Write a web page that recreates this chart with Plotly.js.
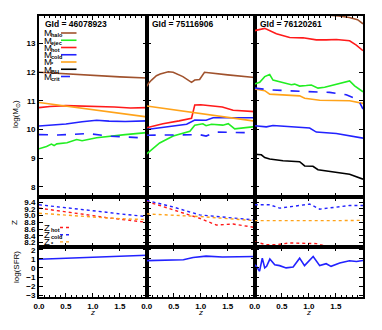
<!DOCTYPE html>
<html><head><meta charset="utf-8">
<script src="https://cdn.plot.ly/plotly-3.0.1.min.js"></script>
<style>html,body{margin:0;padding:0;background:#fff}#chart{width:382px;height:330px}</style>
</head><body><div id="chart"></div>
<script>
// ---------- data ----------
const galaxyIds = ['46078923', '75116906', '76120261'];
const xTickVals = [0, 0.5, 1.0, 1.5];
const xTickText = ['0.0', '0.5', '1.0', '1.5'];
const massTicks = [8, 9, 10, 11, 12, 13];
const metalTicks = [8.2, 8.4, 8.6, 8.8, 9.0, 9.2, 9.4];
const metalTickText = ['8.2', '8.4', '8.6', '8.8', '9.0', '9.2', '9.4'];
const sfrTicks = [-3, -2, -1, 0, 1, 2];

// Galaxy A (46078923)
const zHaloA = [0, 0.5, 1.0, 1.5, 2.0];
const haloA = [11.99, 11.93, 11.88, 11.83, 11.79];
const zHotA = [0, 0.2, 0.5, 0.8, 1.1, 1.4, 1.7, 1.9, 2.0];
const hotA = [10.76, 10.8, 10.83, 10.82, 10.8, 10.78, 10.75, 10.74, 10.76];
const zStarA = [0, 0.5, 1.0, 1.5, 2.0];
const starA = [10.94, 10.82, 10.69, 10.56, 10.44];
const zColdA = [0, 0.5, 0.8, 1.07, 1.3, 1.6, 2.0];
const coldA = [10.12, 10.19, 10.27, 10.32, 10.29, 10.28, 10.3];
const zCritA = [0, 0.35, 0.6, 0.9, 1.3, 1.6, 2.0];
const critA = [9.82, 9.81, 9.83, 9.86, 9.77, 9.73, 9.7];
const zEjecA = [0, 0.14, 0.23, 0.28, 0.33, 0.52, 0.7, 0.8, 1.07, 1.32, 1.6, 2.0];
const ejecA = [9.33, 9.41, 9.49, 9.44, 9.5, 9.54, 9.65, 9.61, 9.71, 9.77, 9.82, 9.89];
const zMetA = [0, 0.25, 0.5, 0.75, 1.0, 1.25, 1.5, 1.75, 2.0];
const zHotMetA = [9.22, 9.17, 9.12, 9.06, 9.0, 8.94, 8.89, 8.84, 8.8];
const zColdMetA = [9.32, 9.28, 9.24, 9.2, 9.15, 9.1, 9.05, 9.0, 8.97];
const zStarMetA = [9.07, 9.04, 9.0, 8.97, 8.95, 8.93, 8.91, 8.9, 8.88];
const zSfrA = [0, 0.5, 1.0, 1.5, 2.0];
const sfrA = [0.95, 1.07, 1.2, 1.3, 1.4];

// Galaxy B (75116906)
const zHaloB = [0, 0.04, 0.09, 0.18, 0.25, 0.4, 0.49, 0.67, 0.83, 0.89, 0.98, 1.07, 1.5, 2.0];
const haloB = [11.5, 11.62, 11.72, 11.87, 11.93, 12.01, 11.99, 11.84, 11.64, 11.72, 11.74, 11.99, 11.9, 11.81];
const zHotB = [0, 0.3, 0.6, 0.83, 0.89, 1.0, 1.4, 1.6, 2.0];
const hotB = [10.06, 10.2, 10.3, 10.39, 10.85, 10.86, 10.78, 10.67, 10.62];
const zStarB = [0, 0.5, 1.0, 1.5, 2.0];
const starB = [10.82, 10.69, 10.56, 10.42, 10.29];
const zColdB = [0, 0.4, 0.74, 0.89, 1.1, 1.23, 1.6, 2.0];
const coldB = [10.0, 10.1, 10.18, 10.33, 10.32, 10.41, 10.41, 10.41];
const zCritB = [0, 0.5, 0.98, 1.1, 1.28, 1.6, 2.0];
const critB = [9.8, 9.8, 9.82, 9.77, 9.91, 9.9, 9.88];
const zEjecB = [0, 0.24, 0.49, 0.8, 0.89, 1.04, 1.1, 1.2, 1.41, 1.51, 1.63, 2.0];
const ejecB = [9.15, 9.53, 9.77, 9.94, 10.15, 10.2, 10.13, 10.18, 10.15, 10.2, 10.02, 10.1];
const zHotMetZB = [0, 0.49, 0.98, 1.29, 1.6, 2.0];
const zHotMetB = [9.42, 9.17, 8.92, 8.72, 8.75, 8.65];
const zColdMetZB = [0, 0.5, 0.98, 1.5, 2.0];
const zColdMetB = [9.45, 9.25, 9.02, 8.95, 8.87];
const zStarMetZB = [0, 1.0, 2.0];
const zStarMetB = [9.05, 8.97, 8.85];
const zSfrB = [0, 0.3, 0.68, 0.86, 1.1, 1.4, 2.0];
const sfrB = [0.8, 0.85, 0.9, 1.15, 1.3, 1.2, 1.25];

// Galaxy C (76120261)
const zHaloC = [0, 0.5, 1.0, 1.55, 1.75, 1.9, 2.0];
const haloC = [14.2, 14.12, 14.05, 13.95, 13.9, 13.82, 13.68];
const zHotC = [0, 0.185, 0.4, 0.646, 0.892, 1.138, 1.322, 1.507, 1.753, 1.876, 2.0];
const hotC = [13.44, 13.52, 13.33, 13.2, 13.19, 13.12, 13.12, 13.13, 13.09, 12.94, 12.74];
const zEjecC = [0, 0.092, 0.185, 0.277, 0.338, 0.523, 0.677, 0.738, 0.83, 0.953, 1.046, 1.169, 1.292, 1.753, 1.845, 2.0];
const ejecC = [11.58, 11.64, 11.84, 11.91, 11.72, 11.64, 11.56, 11.58, 11.51, 11.53, 11.55, 11.44, 11.47, 11.69, 11.52, 11.31];
const zCritC = [0, 0.277, 0.83, 1.384, 1.691, 1.845, 1.937, 2.0];
const critC = [11.44, 11.38, 11.33, 11.29, 11.21, 11.09, 10.94, 10.71];
const zStarC = [0, 0.185, 0.277, 0.83, 0.923, 1.138, 1.2, 1.753, 2.0];
const starC = [11.41, 11.35, 11.23, 11.17, 11.09, 11.05, 11.02, 11.0, 10.91];
const zColdC = [0, 0.215, 0.338, 0.646, 1.015, 1.138, 1.507, 2.0];
const coldC = [10.13, 10.09, 10.14, 10.09, 10.05, 9.91, 9.86, 9.7];
const zBhC = [0, 0.123, 0.185, 0.277, 0.523, 0.83, 0.923, 1.076, 1.169, 1.753, 2.0];
const bhC = [9.14, 9.12, 9.02, 8.97, 8.91, 8.88, 8.73, 8.72, 8.6, 8.44, 8.27];
const zColdMetZC = [0, 0.277, 0.461, 0.646, 1.015, 1.2, 1.45, 1.753, 2.0];
const zColdMetC = [9.32, 9.32, 9.22, 9.26, 9.34, 9.19, 9.24, 9.3, 9.3];
const zStarMetZC = [0, 0.5, 1.0, 1.5, 2.0];
const zStarMetC = [8.85, 8.86, 8.85, 8.85, 8.86];
const zHotMetZC = [0, 0.215, 0.4, 0.646, 1.138, 1.384, 1.6, 2.0];
const zHotMetC = [8.22, 8.14, 8.14, 8.19, 8.17, 8.07, 7.98, 7.9];
const zSfrC = [0, 0.03, 0.09, 0.14, 0.185, 0.22, 0.28, 0.37, 0.46, 0.58, 0.71, 0.83, 0.92, 1.08, 1.2, 1.32, 1.41, 1.57, 1.75, 1.88, 2.0];
const sfrC = [0.35, 0.17, -0.36, 1.07, 0.0, 0.17, 0.97, 0.35, 0.25, 0.0, 0.1, 1.07, 0.25, 1.25, 0.25, 0.46, 0.17, 0.53, 0.78, 0.7, 0.82];

// ---------- styling ----------
const C = {halo: '#a0522d', ejec: '#22ee22', hot: '#ff1a1a', cold: '#2222ff', star: '#ffa31a', bh: '#000000', crit: '#2222ff'};
const W = 382, H = 330;
const colPx = [[39, 146.7], [146.7, 254.7], [254.7, 363]];
const rowPx = [[16, 197], [197, 247], [247, 297]];
const px = v => v / W, py = v => 1 - v / H;
const FONT = 'Liberation Sans, Arial, sans-serif';

const traces = [];
function ln(x, y, color, dash, idx, width) {
  traces.push({x: x, y: y, type: 'scatter', mode: 'lines', xaxis: 'x' + idx, yaxis: 'y' + idx,
    line: {color: color, dash: dash || 'solid', width: width || 1.6}, showlegend: false, hoverinfo: 'skip'});
}
// row 1
ln(zHaloA, haloA, C.halo, null, 1); ln(zEjecA, ejecA, C.ejec, null, 1); ln(zHotA, hotA, C.hot, null, 1);
ln(zColdA, coldA, C.cold, null, 1); ln(zStarA, starA, C.star, null, 1); ln(zCritA, critA, C.crit, 'dash', 1);
ln(zHaloB, haloB, C.halo, null, 2); ln(zEjecB, ejecB, C.ejec, null, 2); ln(zHotB, hotB, C.hot, null, 2);
ln(zColdB, coldB, C.cold, null, 2); ln(zStarB, starB, C.star, null, 2); ln(zCritB, critB, C.crit, 'dash', 2);
ln(zHaloC, haloC, C.halo, null, 3); ln(zEjecC, ejecC, C.ejec, null, 3); ln(zHotC, hotC, C.hot, null, 3);
ln(zColdC, coldC, C.cold, null, 3); ln(zStarC, starC, C.star, null, 3); ln(zCritC, critC, C.crit, 'dash', 3);
ln(zBhC, bhC, C.bh, null, 3);
// row 2
const DOTW = 1.4;
ln(zMetA, zHotMetA, C.hot, 'dot', 4, DOTW); ln(zMetA, zColdMetA, C.cold, 'dot', 4, DOTW); ln(zMetA, zStarMetA, C.star, 'dot', 4, DOTW);
ln(zHotMetZB, zHotMetB, C.hot, 'dot', 5, DOTW); ln(zColdMetZB, zColdMetB, C.cold, 'dot', 5, DOTW); ln(zStarMetZB, zStarMetB, C.star, 'dot', 5, DOTW);
ln(zHotMetZC, zHotMetC, C.hot, 'dot', 6, DOTW); ln(zColdMetZC, zColdMetC, C.cold, 'dot', 6, DOTW); ln(zStarMetZC, zStarMetC, C.star, 'dot', 6, DOTW);
// row 3
ln(zSfrA, sfrA, C.cold, null, 7); ln(zSfrB, sfrB, C.cold, null, 8); ln(zSfrC, sfrC, C.cold, null, 9);

const layout = {width: W, height: H, margin: {l: 0, r: 0, t: 0, b: 0}, paper_bgcolor: '#fff', plot_bgcolor: '#fff',
  font: {family: FONT, size: 8, color: '#000'}, annotations: [], shapes: []};
const tickFont = {family: FONT, size: 8, color: '#000', weight: 'bold'};
const yCfg = [
  {range: [7.65, 13.95], tickvals: massTicks},
  {range: [8.07, 9.55], tickvals: metalTicks, ticktext: metalTickText},
  {range: [-3.2, 2.3], tickvals: sfrTicks}
];
for (let r = 0; r < 3; r++) {
  for (let c = 0; c < 3; c++) {
    const i = r * 3 + c + 1;
    const base = {showline: true, linewidth: 2, linecolor: '#000', mirror: 'ticks', ticks: 'inside', ticklen: 4,
      tickwidth: 1, tickcolor: '#000', showgrid: false, zeroline: false, tickfont: tickFont, fixedrange: true};
    layout['xaxis' + i] = Object.assign({}, base, {domain: [px(colPx[c][0]), px(colPx[c][1])], anchor: 'y' + i,
      range: [0, 2], tickmode: 'array', tickvals: xTickVals, ticktext: xTickText, showticklabels: r === 2,
      minor: {tickmode: 'linear', tick0: 0, dtick: 0.1, ticks: 'inside', ticklen: 2, tickcolor: '#000'}});
    layout['yaxis' + i] = Object.assign({}, base, {domain: [py(rowPx[r][1]), py(rowPx[r][0])], anchor: 'x' + i,
      range: yCfg[r].range, tickmode: 'array', tickvals: yCfg[r].tickvals, ticktext: yCfg[r].ticktext,
      showticklabels: c === 0});
  }
}
// galaxy ids
galaxyIds.forEach((g, c) => layout.annotations.push({xref: 'paper', yref: 'paper', x: px(colPx[c][0] + 3.5), y: py(24),
  xanchor: 'left', yanchor: 'middle', text: 'GId = ' + g, showarrow: false, font: {family: FONT, size: 8.5, weight: 'bold'}}));
// axis titles
const ttl = (x, y, t, ang, sz) => layout.annotations.push({xref: 'paper', yref: 'paper', x: px(x), y: py(y), text: t,
  textangle: ang, showarrow: false, xanchor: 'center', yanchor: 'middle', font: {family: FONT, size: sz || 8}});
ttl(16, 114, 'log(M<sub>⊙</sub>)', -90);
ttl(14, 222, 'Z', -90);
ttl(16, 267, 'log(SFR)', -90);
colPx.forEach(cp => ttl((cp[0] + cp[1]) / 2, 312, '<i>z</i>', 0));
// legends: symbol letter + small subscript + line sample
function legItem(letter, sub, yy, lx0, lx1, color, dash, w) {
  layout.annotations.push({xref: 'paper', yref: 'paper', x: px(41.5), y: py(yy), xanchor: 'left', yanchor: 'middle',
    text: letter, showarrow: false, font: {family: FONT, size: 9.5}});
  layout.annotations.push({xref: 'paper', yref: 'paper', x: px(48.5), y: py(yy + 2.3), xanchor: 'left', yanchor: 'middle',
    text: sub, showarrow: false, font: {family: FONT, size: 5.5, weight: 'bold'}});
  layout.shapes.push({type: 'line', xref: 'paper', yref: 'paper', x0: px(lx0), x1: px(lx1), y0: py(yy), y1: py(yy),
    line: {color: color, width: w, dash: dash}});
}
const massLeg = [['halo', C.halo, 'solid'], ['ejec', C.ejec, 'solid'], ['hot', C.hot, 'solid'], ['cold', C.cold, 'solid'],
  ['*', C.star, 'solid'], ['BH', C.bh, 'solid'], ['crit', C.crit, 'dash']];
massLeg.forEach((m, k) => legItem('M', m[0], 33 + k * 7.25, 61, 76.5, m[1], m[2], 1.6));
const metLeg = [['hot', C.hot], ['cold', C.cold], ['*', C.star]];
metLeg.forEach((m, k) => legItem('Z', m[0], 227.5 + k * 7.2, 60, 71, m[1], 'dot', DOTW));
Plotly.newPlot('chart', traces, layout, {staticPlot: true, displayModeBar: false});
</script></body></html>
